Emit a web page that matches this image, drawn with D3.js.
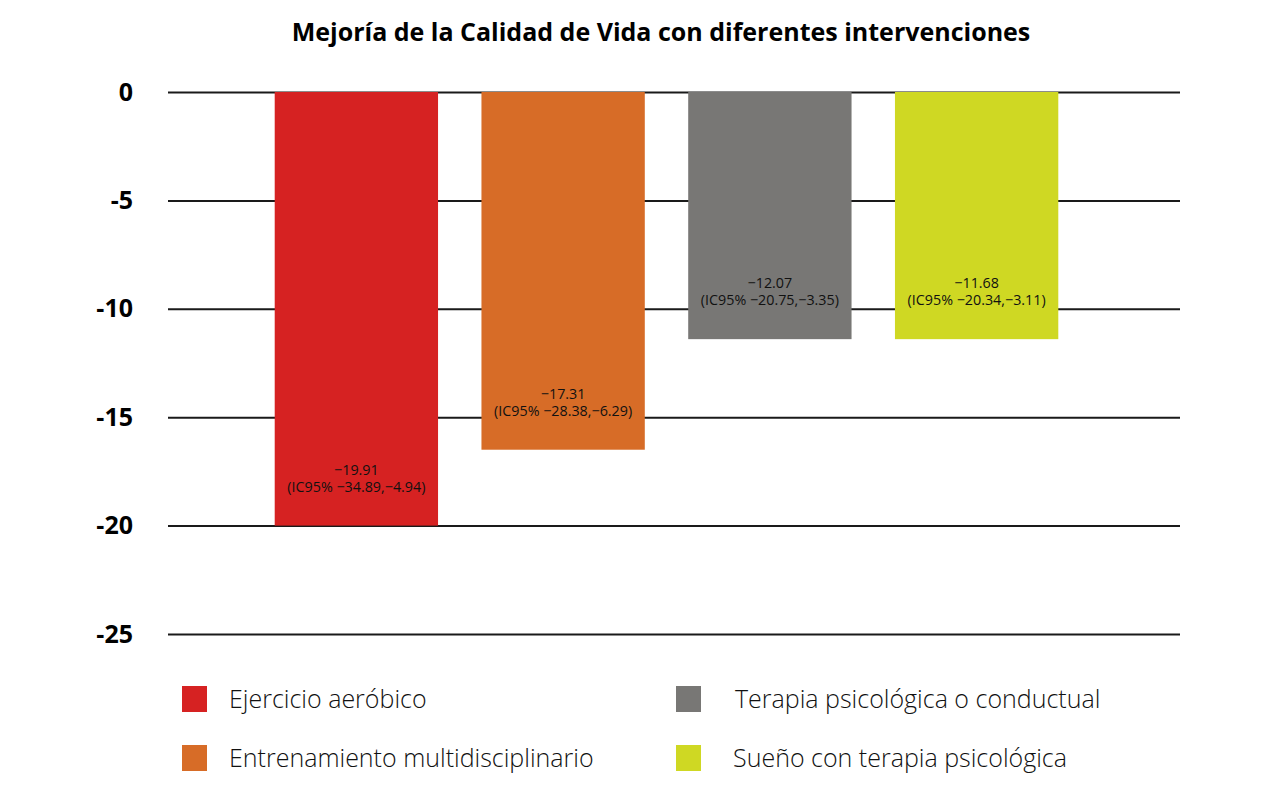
<!DOCTYPE html>
<html>
<head>
<meta charset="utf-8">
<script src="https://cdn.jsdelivr.net/npm/d3@7"></script>
<style>
    body { margin: 0; background: #fff; }
    text { font-family: 'Open Sans', sans-serif; }
</style>
</head>
<body>
<div id="chart"></div>
<script>
const categories = ['Ejercicio aeróbico', 'Entrenamiento multidisciplinario', 'Terapia psicológica o conductual', 'Sueño con terapia psicológica']
// bar heights as drawn in the picture
const barValues = [-20, -16.5, -11.4, -11.4]
const valueLabels = ['\u221219.91', '\u221217.31', '\u221212.07', '\u221211.68']
const ciLabels = ['(IC95% \u221234.89,\u22124.94)', '(IC95% \u221228.38,\u22126.29)', '(IC95% \u221220.75,\u22123.35)', '(IC95% \u221220.34,\u22123.11)']
const colors = ['#d62222', '#d76c27', '#787775', '#cfd823']
const yTicks = [0, -5, -10, -15, -20, -25]

function draw() {
    const dimensions = { width: 1275, height: 792 }

    const svg = d3.select('#chart')
        .append('svg')
        .attr('width', dimensions.width)
        .attr('height', dimensions.height)

    svg.append('text')
        .attr('x', 661)
        .attr('y', 41)
        .attr('text-anchor', 'middle')
        .style('font-size', '25px')
        .style('font-weight', 700)
        .text('Mejoría de la Calidad de Vida con diferentes intervenciones')

    const yScale = d3.scaleLinear()
        .domain([0, -25])
        .range([92, 634])

    const xScale = d3.scaleBand()
        .domain(categories)
        .range([253, 1080])
        .paddingInner(0.21)
        .paddingOuter(0.105)

    // grid lines + tick labels
    const yAxis = d3.axisLeft(yScale)
        .tickValues(yTicks)
        .tickSize(-(1180 - 168))
        .tickFormat(d => d)

    const yAxisGroup = svg.append('g')
        .attr('transform', 'translate(168,0)')
        .call(yAxis)
    yAxisGroup.select('.domain').remove()
    yAxisGroup.selectAll('.tick line')
        .attr('stroke', '#1a1a1a')
        .attr('stroke-width', 2)
    yAxisGroup.selectAll('.tick text')
        .attr('x', -35)
        .attr('fill', '#000')
        .style('font-size', '25px')
        .style('font-weight', 700)
        .style('font-family', "'Open Sans', sans-serif")

    const bars = svg.append('g')
    bars.selectAll('rect')
        .data(categories)
        .join('rect')
        .attr('x', d => xScale(d))
        .attr('width', xScale.bandwidth())
        .attr('y', yScale(0))
        .attr('height', (d, i) => yScale(barValues[i]) - yScale(0))
        .attr('fill', (d, i) => colors[i])

    const labels = svg.append('g')
        .selectAll('text')
        .data(categories)
        .join('text')
        .attr('text-anchor', 'middle')
        .attr('fill', '#111')
        .style('font-size', '14.3px')
        .style('font-weight', 400)
    labels.append('tspan')
        .attr('x', d => xScale(d) + xScale.bandwidth() / 2)
        .attr('y', (d, i) => yScale(barValues[i]) - 51)
        .text((d, i) => valueLabels[i])
    labels.append('tspan')
        .attr('x', d => xScale(d) + xScale.bandwidth() / 2)
        .attr('y', (d, i) => yScale(barValues[i]) - 34)
        .text((d, i) => ciLabels[i])

    // legend: two columns, two rows
    const legendX = [182, 676]
    const legendY = [686, 745]
    const legend = svg.append('g')
        .selectAll('g')
        .data(categories)
        .join('g')
        .attr('transform', (d, i) => `translate(${legendX[Math.floor(i / 2)]}, ${legendY[i % 2]})`)
    legend.append('rect')
        .attr('width', 25)
        .attr('height', 26)
        .attr('fill', (d, i) => colors[i])
    legend.append('text')
        .attr('x', (d, i) => i === 2 ? 59 : (i === 3 ? 57 : 47))
        .attr('y', 22)
        .style('font-size', '25px')
        .style('font-weight', 300)
        .attr('fill', '#111')
        .text(d => d)
}

draw()
</script>
</body>
</html>
